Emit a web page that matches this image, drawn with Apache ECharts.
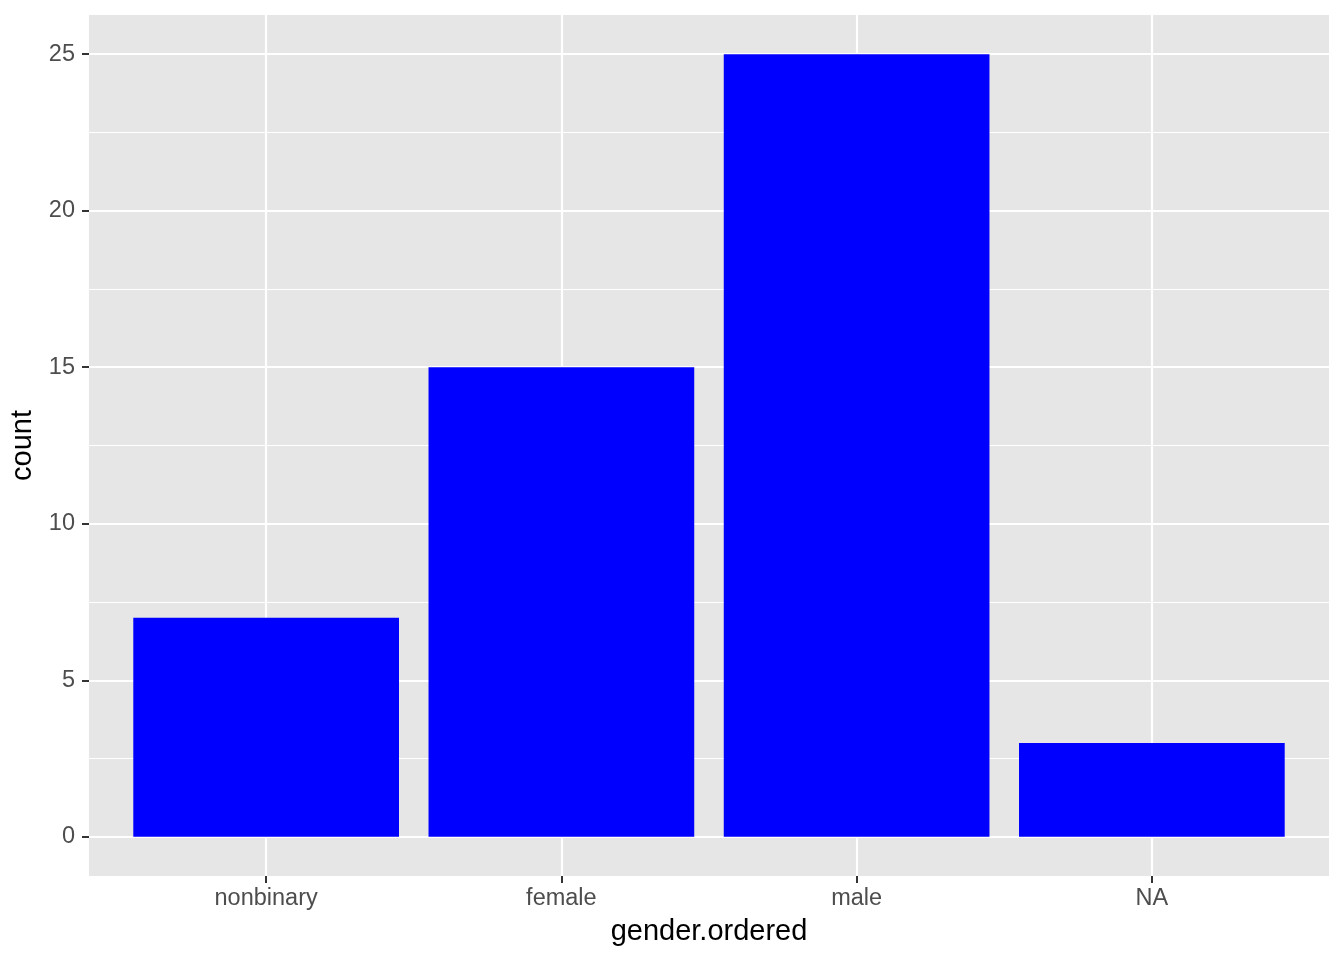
<!DOCTYPE html>
<html><head><meta charset="utf-8">
<script src="https://cdn.jsdelivr.net/npm/echarts@6/dist/echarts.min.js"></script>
<style>html,body{margin:0;padding:0;background:#fff}#c{width:1344px;height:960px}</style>
</head><body><div id="c"></div>
<script>
const categories = ['nonbinary', 'female', 'male', 'NA'];
const counts = [7, 15, 25, 3];
const yTicks = [0, 5, 10, 15, 20, 25];
const yMinor = [2.5, 7.5, 12.5, 17.5, 22.5];

const catIdx = categories.map((c, i) => i);
const chart = echarts.init(document.getElementById('c'), null, {renderer: 'canvas'});
const FONT = 'Liberation Sans, Arial, Helvetica, sans-serif';

const gridLines = [];
yTicks.forEach(v => gridLines.push({yAxis: v, lineStyle: {width: 2.2}}));
yMinor.forEach(v => gridLines.push({yAxis: v, lineStyle: {width: 1.1}}));
catIdx.forEach(v => gridLines.push({xAxis: v, lineStyle: {width: 2.2}}));

const hiddenLine = {show: true, onZero: false, lineStyle: {color: 'rgba(0,0,0,0)', width: 0}};

chart.setOption({
  animation: false,
  backgroundColor: '#ffffff',
  grid: {left: 89, right: 15, top: 15, bottom: 84, containLabel: false,
         show: true, backgroundColor: '#E6E6E6', borderWidth: 0},
  xAxis: {
    type: 'value', min: -0.6, max: 3.6,
    name: 'gender.ordered', nameLocation: 'middle', nameGap: 41,
    nameTextStyle: {color: '#000', fontSize: 29, fontFamily: FONT},
    axisLine: hiddenLine,
    splitLine: {show: false},
    axisTick: {show: true, customValues: catIdx, length: 7, lineStyle: {color: '#333333', width: 2}},
    axisLabel: {customValues: catIdx, color: '#4D4D4D', fontSize: 23.5, fontFamily: FONT, margin: 11,
                formatter: v => categories[Math.round(v)]}
  },
  yAxis: {
    type: 'value', min: -1.25, max: 26.25,
    name: 'count', nameLocation: 'middle', nameGap: 47, nameRotate: 90,
    nameTextStyle: {color: '#000', fontSize: 29, fontFamily: FONT},
    axisLine: hiddenLine,
    splitLine: {show: false},
    axisTick: {show: true, customValues: yTicks, length: 7, lineStyle: {color: '#333333', width: 2}},
    axisLabel: {customValues: yTicks, color: '#4D4D4D', fontSize: 23.5, fontFamily: FONT, margin: 14}
  },
  series: [
    {
      type: 'scatter', data: [], z: 1, silent: true,
      markLine: {silent: true, z: 1, symbol: 'none', label: {show: false}, animation: false,
                 lineStyle: {color: '#ffffff', type: 'solid'}, emphasis: {disabled: true},
                 data: gridLines}
    },
    {
      type: 'bar', z: 10, barWidth: '90%',
      data: counts.map((v, i) => [catIdx[i], v]),
      itemStyle: {color: '#0000FF'}
    }
  ]
});
</script></body></html>
